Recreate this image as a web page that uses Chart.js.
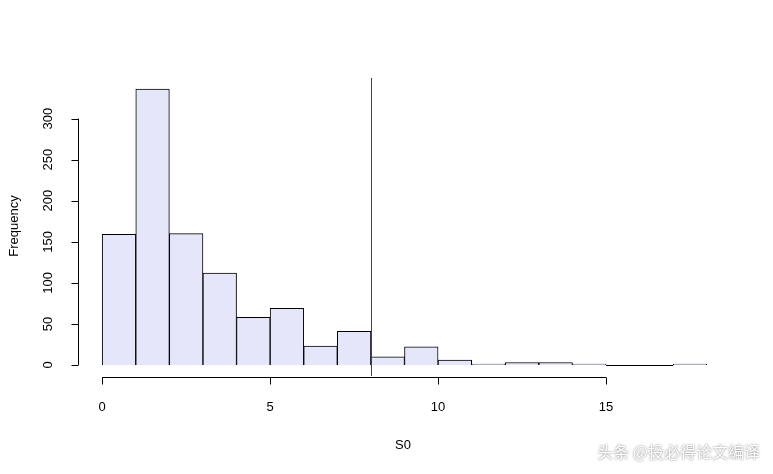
<!DOCTYPE html><html><head><meta charset="utf-8">
<script src="https://cdn.jsdelivr.net/npm/chart.js@4"></script>
<style>body{margin:0;background:#fff}#w{width:773px;height:474px}</style></head><body><div id="w"><canvas id="c"></canvas></div>
<script>
const binCenters=[0.5,1.5,2.5,3.5,4.5,5.5,6.5,7.5,8.5,9.5,10.5,11.5,12.5,13.5,14.5,15.5,16.5,17.5];
const counts=[159,336,160,112,58,69,23,41,10,22,6,1,3,3,1,0,0,1];
const xTicks=[0,5,10,15];
const yTicks=[0,50,100,150,200,250,300];
const cutoff=8;
const F='13px "Liberation Sans", Arial, sans-serif';
const axes={id:'ax',afterDraw(ch){
 const c=ch.ctx,x=ch.scales.x,y=ch.scales.y,a=ch.chartArea;
 c.save();c.strokeStyle='#000';c.fillStyle='#000';c.lineWidth=1;c.font=F;
 const ax=a.left+0.5, ay=a.bottom+1.5;
 c.beginPath();
 const b0=Math.round(y.getPixelForValue(0))+0.5;
 c.moveTo(x.getPixelForValue(15),b0);c.lineTo(x.getPixelForValue(17),b0);
 c.moveTo(ax,y.getPixelForValue(0));c.lineTo(ax,y.getPixelForValue(300));
 yTicks.forEach(v=>{const p=Math.round(y.getPixelForValue(v))+0.5;c.moveTo(ax,p);c.lineTo(ax-7,p);});
 c.moveTo(x.getPixelForValue(0),ay);c.lineTo(x.getPixelForValue(15),ay);
 xTicks.forEach(v=>{const p=Math.round(x.getPixelForValue(v))+0.5;c.moveTo(p,ay);c.lineTo(p,ay+7);});
 c.stroke();
 c.textAlign='center';c.textBaseline='middle';
 xTicks.forEach(v=>c.fillText(String(v),x.getPixelForValue(v),407));
 yTicks.forEach(v=>{c.save();c.translate(ax-30,y.getPixelForValue(v));c.rotate(-Math.PI/2);c.fillText(String(v),0,0);c.restore();});
 c.fillText('S0',403,445);
 c.save();c.translate(14,226);c.rotate(-Math.PI/2);c.fillText('Frequency',0,0);c.restore();
 c.strokeStyle='#e00000';c.beginPath();const r=Math.round(x.getPixelForValue(cutoff))+0.5;c.moveTo(r,a.top);c.lineTo(r,a.bottom);c.stroke();
 c.font='16px "Noto Sans CJK SC"';c.textAlign='right';c.shadowColor='rgba(0,0,0,0.6)';c.shadowBlur=2;c.fillStyle='#fff';
 c.fillText('头条 @投必得论文编译',760,452);
 c.restore();}};
new Chart(document.getElementById('c'),{type:'bar',
 data:{datasets:[{data:binCenters.map((v,i)=>({x:v,y:counts[i]})),backgroundColor:'#e6e6fa',borderColor:'#000',borderWidth:1,barPercentage:1,categoryPercentage:1}]},
 options:{responsive:true,maintainAspectRatio:false,animation:false,
  layout:{padding:{left:78,right:42,top:78,bottom:98}},
  plugins:{legend:{display:false},tooltip:{enabled:false}},
  scales:{x:{type:'linear',offset:false,min:-0.72,max:18.72,display:false},y:{min:-13.4,max:349.4,display:false}}},
 plugins:[axes]});
</script></body></html>
